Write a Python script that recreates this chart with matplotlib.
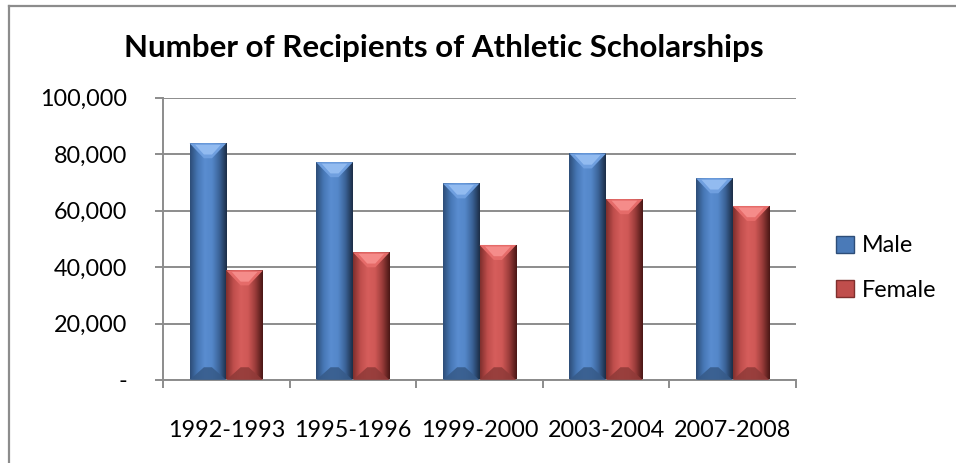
import numpy as np
import matplotlib
matplotlib.use("Agg")
import matplotlib.pyplot as plt
from matplotlib.patches import Polygon, Patch
from matplotlib.lines import Line2D
from matplotlib.colors import LinearSegmentedColormap
from matplotlib.ticker import FuncFormatter, MultipleLocator

# dados
anos = ["1992-1993", "1995-1996", "1999-2000", "2003-2004", "2007-2008"]
masculino = [83800, 77100, 69600, 80200, 71400]
feminino = [38800, 45200, 47800, 64000, 61600]
series = ["Male", "Female"]

plt.rcParams['font.family'] = ['Lato', 'DejaVu Sans']

W, H = 956, 463
fig = plt.figure(figsize=(W / 100, H / 100), dpi=100)
ax = fig.add_axes([163 / W, 83 / H, 633 / W, 282.5 / H])

GRID = '#8c8c8c'
largura = 0.29
x = np.arange(len(anos))

# estilos de "bevel" (imitacao do Excel)
estilo_azul = {
    'perfil': ['#2d4d78', '#4677b5', '#5a8dd0', '#5487c9', '#3b6398', '#1c2e47'],
    'topo': ['#9cc3f5', '#6f9fdf'],
    'base': ['#365a88', '#4a78b3'],
}
estilo_verm = {
    'perfil': ['#7f2f2d', '#c04e4c', '#d65e5c', '#cf5856', '#9a3c3a', '#4a1716'],
    'topo': ['#fa9593', '#e56b69'],
    'base': ['#8f3a38', '#b24c4a'],
}

ylim = (0, 100000)
ax.set_xlim(-0.5, len(anos) - 0.5)
ax.set_ylim(*ylim)

px_x = 633 / (len(anos))          # pixels por categoria
px_y = 282.5 / (ylim[1] - ylim[0])  # pixels por unidade y


def desenhar_barras(barras, est):
    cmap = LinearSegmentedColormap.from_list('p', est['perfil'])
    grad = np.linspace(0, 1, 64).reshape(1, -1)
    for b in barras:
        x0, w, h = b.get_x(), b.get_width(), b.get_height()
        b.set_facecolor('none')
        b.set_edgecolor('none')
        im = ax.imshow(grad, cmap=cmap, aspect='auto', extent=(x0, x0 + w, 0, h),
                       zorder=2, interpolation='bicubic')
        im.set_clip_path(b)
        dy = 15 / px_y
        dx = 4 / px_x
        xc = x0 + w / 2
        dy = min(dy, h / 2)
        topo = Polygon([(x0, h), (x0 + w, h), (xc + dx, h - dy), (xc - dx, h - dy)],
                       closed=True, facecolor=est['topo'][1], edgecolor='none', zorder=3)
        ax.add_patch(topo)
        topo2 = Polygon([(x0 + w * 0.15, h - dy * 0.1), (x0 + w * 0.85, h - dy * 0.1),
                         (xc + dx, h - dy * 0.75), (xc - dx, h - dy * 0.75)],
                        closed=True, facecolor=est['topo'][0], edgecolor='none', zorder=3, alpha=0.8)
        ax.add_patch(topo2)
        base = Polygon([(x0, 0), (x0 + w, 0), (xc + dx, dy * 0.85), (xc - dx, dy * 0.85)],
                       closed=True, facecolor=est['base'][0], edgecolor='none', zorder=3, alpha=0.85)
        ax.add_patch(base)


b1 = ax.bar(x - largura / 2, masculino, largura, zorder=2)
b2 = ax.bar(x + largura / 2, feminino, largura, zorder=2)
desenhar_barras(b1, estilo_azul)
desenhar_barras(b2, estilo_verm)
ax.set_xlim(-0.5, len(anos) - 0.5)
ax.set_ylim(*ylim)

# eixos e grade
ax.yaxis.set_major_locator(MultipleLocator(20000))
ax.yaxis.set_major_formatter(FuncFormatter(lambda v, p: '-' if v == 0 else f'{int(v):,}'))
ax.grid(axis='y', color=GRID, lw=1.4, zorder=0)
ax.set_axisbelow(True)
for s in ['top', 'right']:
    ax.spines[s].set_visible(False)
for s in ['left', 'bottom']:
    ax.spines[s].set_color(GRID)
    ax.spines[s].set_linewidth(1.4)

ax.set_xticks(x)
ax.set_xticklabels(anos)
ax.set_xticks(np.arange(-0.5, len(anos)), minor=True)
ax.tick_params(axis='x', which='major', length=0, pad=29, labelsize=16.8, colors='black')
ax.tick_params(axis='x', which='minor', length=6, width=1.4, color=GRID, direction='out')
ax.tick_params(axis='y', length=6, width=1.4, color=GRID, pad=20, labelsize=16.8)

# titulo
fig.text(0.5 * (118 + 770) / W, 1 - 48 / H, 'Number of Recipients of Athletic Scholarships',
         ha='center', va='center', fontsize=22.5, fontweight='bold')

# legenda
handles = [Patch(facecolor='#4a7ab8', edgecolor='#2d4d78'),
           Patch(facecolor='#c04e4c', edgecolor='#7f2f2d')]
leg = fig.legend(handles, series, loc='center left', bbox_to_anchor=(836 / W, 1 - 268 / H),
                 frameon=False, fontsize=16.8, handlelength=0.75, handleheight=0.75,
                 handletextpad=0.35, labelspacing=1.0, borderaxespad=0, borderpad=0)

# moldura (linhas superior e esquerda)
fig.add_artist(Line2D([8.5 / W, 8.5 / W], [0, 1 - 5.5 / H], color=GRID, lw=1.6))
fig.add_artist(Line2D([8.5 / W, 1], [1 - 5.5 / H, 1 - 5.5 / H], color=GRID, lw=1.6))

plt.savefig('out.png', dpi=100)
plt.close()
